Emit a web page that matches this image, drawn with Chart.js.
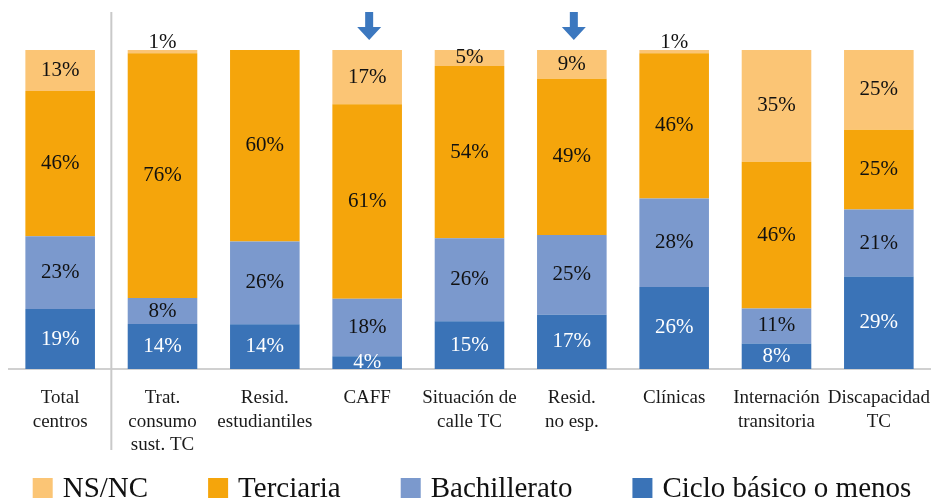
<!DOCTYPE html>
<html>
<head>
<meta charset="utf-8">
<script src="https://cdn.jsdelivr.net/npm/chart.js@4/dist/chart.umd.min.js"></script>
<style>
  html, body { margin: 0; padding: 0; background: #fff; }
  #wrap { width: 944px; height: 502px; position: relative; }
</style>
</head>
<body>
<div id="wrap"><canvas id="chart"></canvas></div>
<script>
// Datos del gráfico (porcentajes por nivel educativo)
const categories = [
    ['Total', 'centros'],
    ['Trat.', 'consumo', 'sust. TC'],
    ['Resid.', 'estudiantiles'],
    ['CAFF'],
    ['Situación de', 'calle TC'],
    ['Resid.', 'no esp.'],
    ['Clínicas'],
    ['Internación', 'transitoria'],
    ['Discapacidad', 'TC']
];
const cicloBasico  = [19, 14, 14, 4, 15, 17, 26, 8, 29];
const bachillerato = [23, 8, 26, 18, 26, 25, 28, 11, 21];
const terciaria    = [46, 76, 60, 61, 54, 49, 46, 46, 25];
const nsnc         = [13, 1, 0, 17, 5, 9, 1, 35, 25];
const seriesNames  = ['Ciclo básico o menos', 'Bachillerato', 'Terciaria', 'NS/NC'];
const markedCategories = [3, 5]; // flechas (CAFF, Resid. no esp.)

const colors = ['#3A73B7', '#7B99CD', '#F5A50B', '#FBC575'];
const labelColors = ['#ffffff', '#111111', '#111111', '#111111'];
const serif = '"Liberation Serif", "DejaVu Serif", serif';

// Barras apiladas al 100% (como en Excel)
const rawSeries = [cicloBasico, bachillerato, terciaria, nsnc];
const totals = categories.map((c, i) => rawSeries.reduce((s, arr) => s + arr[i], 0));
const datasets = rawSeries.map((arr, k) => ({
    label: seriesNames[k],
    data: arr.map((v, i) => v / totals[i] * 100),
    raw: arr,
    backgroundColor: colors[k],
    borderWidth: 0,
    barPercentage: 0.68,
    categoryPercentage: 1.0
}));

// Etiquetas de valores, separador, flechas y leyenda
const decorPlugin = {
    id: 'decor',
    afterDatasetsDraw(chart) {
        const ctx = chart.ctx;
        const x = chart.scales.x;
        const area = chart.chartArea;

        // etiquetas
        ctx.save();
        ctx.font = '21px ' + serif;
        ctx.textAlign = 'center';
        ctx.textBaseline = 'middle';
        chart.data.datasets.forEach((ds, k) => {
            const meta = chart.getDatasetMeta(k);
            meta.data.forEach((bar, i) => {
                const v = ds.raw[i];
                if (!v) return;
                const h = bar.base - bar.y;
                let y = (bar.y + bar.base) / 2;
                if (h < 10) y = bar.y - 8;
                ctx.fillStyle = h < 10 ? '#111111' : labelColors[k];
                ctx.fillText(v + '%', bar.x, y);
            });
        });
        ctx.restore();

        // línea separadora entre "Total" y el resto
        const sepX = (x.getPixelForValue(0) + x.getPixelForValue(1)) / 2;
        ctx.save();
        ctx.strokeStyle = '#c9c9c9';
        ctx.lineWidth = 2;
        ctx.beginPath();
        ctx.moveTo(sepX, 12);
        ctx.lineTo(sepX, 450);
        ctx.stroke();
        ctx.restore();

        // flechas
        ctx.save();
        ctx.fillStyle = '#3C78BF';
        markedCategories.forEach(i => {
            const cx = x.getPixelForValue(i) + 2;
            const top = 12, neck = 27, tip = area.top - 10;
            ctx.beginPath();
            ctx.moveTo(cx - 4, top);
            ctx.lineTo(cx + 4, top);
            ctx.lineTo(cx + 4, neck);
            ctx.lineTo(cx + 12, neck);
            ctx.lineTo(cx, tip);
            ctx.lineTo(cx - 12, neck);
            ctx.lineTo(cx - 4, neck);
            ctx.closePath();
            ctx.fill();
        });
        ctx.restore();

        // leyenda (orden inverso al apilado)
        ctx.save();
        ctx.font = '29px ' + serif;
        ctx.textBaseline = 'middle';
        const items = chart.data.datasets.map((ds, k) => ({ text: ds.label, color: colors[k] })).reverse();
        const box = 20, gapText = 10, gapItem = 60;
        const widths = items.map(it => box + gapText + ctx.measureText(it.text).width);
        const total = widths.reduce((a, b) => a + b, 0) + gapItem * (items.length - 1);
        let lx = (chart.width - total) / 2;
        const ly = 488;
        items.forEach((it, j) => {
            ctx.fillStyle = it.color;
            ctx.fillRect(lx, ly - box / 2, box, box);
            ctx.fillStyle = '#111111';
            ctx.fillText(it.text, lx + box + gapText, ly + 1);
            lx += widths[j] + gapItem;
        });
        ctx.restore();
    }
};

new Chart(document.getElementById('chart'), {
    type: 'bar',
    data: { labels: categories, datasets: datasets },
    options: {
        responsive: true,
        maintainAspectRatio: false,
        animation: false,
        layout: { padding: { top: 50, left: 9, right: 14, bottom: 0 } },
        plugins: {
            legend: { display: false },
            tooltip: { enabled: false }
        },
        scales: {
            x: {
                stacked: true,
                grid: { display: false },
                border: { display: true, color: '#d0d0d0', width: 2 },
                ticks: {
                    color: '#1a1a1a',
                    font: { family: serif, size: 19, lineHeight: 1.25 },
                    padding: 9,
                    autoSkip: false,
                    maxRotation: 0
                },
                afterFit(scale) { scale.height = 133; }
            },
            y: {
                stacked: true,
                display: false,
                min: 0,
                max: 100
            }
        }
    },
    plugins: [decorPlugin]
});
</script>
</body>
</html>
